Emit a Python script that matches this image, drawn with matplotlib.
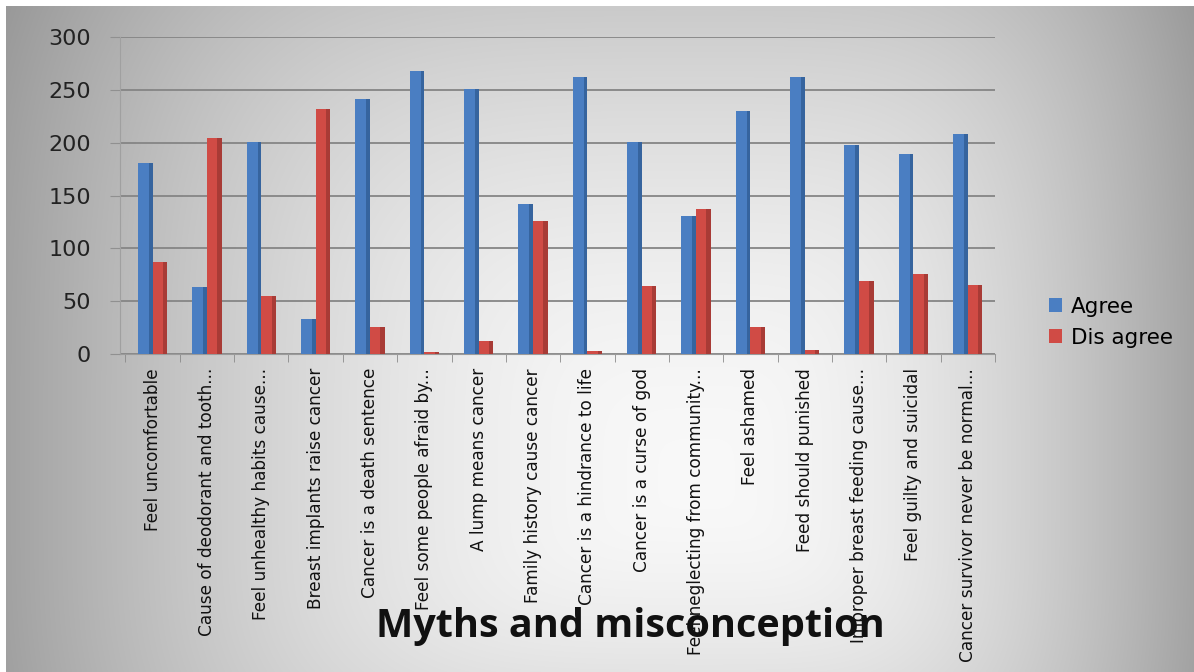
import numpy as np
import matplotlib.pyplot as plt

# survey answers per myth
categories = ["Feel uncomfortable", "Cause of deodorant and tooth...",
              "Feel unhealthy habits cause...", "Breast implants raise cancer",
              "Cancer is a death sentence", "Feel some people afraid by...",
              "A lump means cancer", "Family history cause cancer",
              "Cancer is a hindrance to life", "Cancer is a curse of god",
              "Feel neglecting from community...", "Feel ashamed",
              "Feed should punished", "Improper breast feeding cause...",
              "Feel guilty and suicidal", "Cancer survivor never be normal..."]
agree = [181, 63, 201, 33, 241, 268, 251, 142, 262, 201, 131, 230, 262, 198, 189, 208]
disagree = [87, 204, 55, 232, 26, 2, 12, 126, 3, 64, 137, 26, 4, 69, 76, 65]
yticks = [0, 50, 100, 150, 200, 250, 300]

W, H = 1194, 672
fig = plt.figure(figsize=(W / 100, H / 100), dpi=100)
fig.patch.set_facecolor('white')

# grey background, light in the middle and darker towards the edges
yy, xx = np.mgrid[0:H, 0:W].astype(float)
cx, cy = 700.0, 480.0
dx = np.where(xx < cx, (xx - cx) / 700.0, (xx - cx) / 500.0)
dy = np.where(yy < cy, (yy - cy) / 680.0, (yy - cy) / 420.0)
r = (dx ** 4 + dy ** 4) ** 0.25
shade = np.clip(0.975 - 0.34 * r ** 1.8, 0.55, 1.0)
bg = fig.add_axes([6 / W, 0, 1 - 6 / W, 1 - 6 / H], zorder=-10)
bg.imshow(np.dstack([shade] * 3), aspect='auto', extent=[0, 1, 0, 1])
bg.axis('off')

fig.text(630 / W, 1 - 626 / H, 'Myths and misconception', ha='center', va='center',
         fontsize=28.5, fontweight='bold', family=['Open Sans', 'DejaVu Sans'],
         color='#111111', zorder=-5)

left, right = 120.0, 995.0
top, bottom = 37.0, 354.0
ax = fig.add_axes([left / W, 1 - bottom / H, (right - left) / W, (bottom - top) / H])
ax.patch.set_alpha(0)

x = np.arange(len(categories))
w = 0.27
blue, blue_d = '#4a7ec2', '#36649e'
red, red_d = '#d04b45', '#a83b36'

ax.bar(x - w / 2, agree, w, color=blue, label='Agree', zorder=3)
ax.bar(x, agree, -w * 0.25, align='edge', color=blue_d, zorder=3)
ax.bar(x + w / 2, disagree, w, color=red, label='Dis agree', zorder=3)
ax.bar(x + w, disagree, -w * 0.3, align='edge', color=red_d, zorder=3)

ax.set_xlim(-0.6, len(categories) - 0.5)
ax.set_ylim(0, 300)
ax.set_yticks(yticks)
ax.yaxis.grid(True, color='#858585', linewidth=1.3, zorder=0)
ax.set_axisbelow(True)

for s in ['top', 'right']:
    ax.spines[s].set_visible(False)
ax.spines['left'].set_color('#a0a0a0')
ax.spines['bottom'].set_color('#9a9a9a')
ax.tick_params(axis='y', length=7, color='#909090', pad=14, labelsize=16,
               labelcolor='#222222')

ax.set_xticks(x)
ax.set_xticklabels(categories, rotation=90, fontsize=12.2, color='#111111',
                   va='top', ha='center')
ax.tick_params(axis='x', length=0, pad=10)
ax.set_xticks(np.arange(len(categories) + 1) - 0.5, minor=True)
ax.tick_params(axis='x', which='minor', length=6, color='#8a8a8a')

leg = ax.legend(loc='center left', bbox_to_anchor=(1.04, 0.1), frameon=False,
                fontsize=15.5, handlelength=0.6, handleheight=0.6,
                handletextpad=0.4, labelspacing=0.5)

fig.savefig('out.png', dpi=100)
